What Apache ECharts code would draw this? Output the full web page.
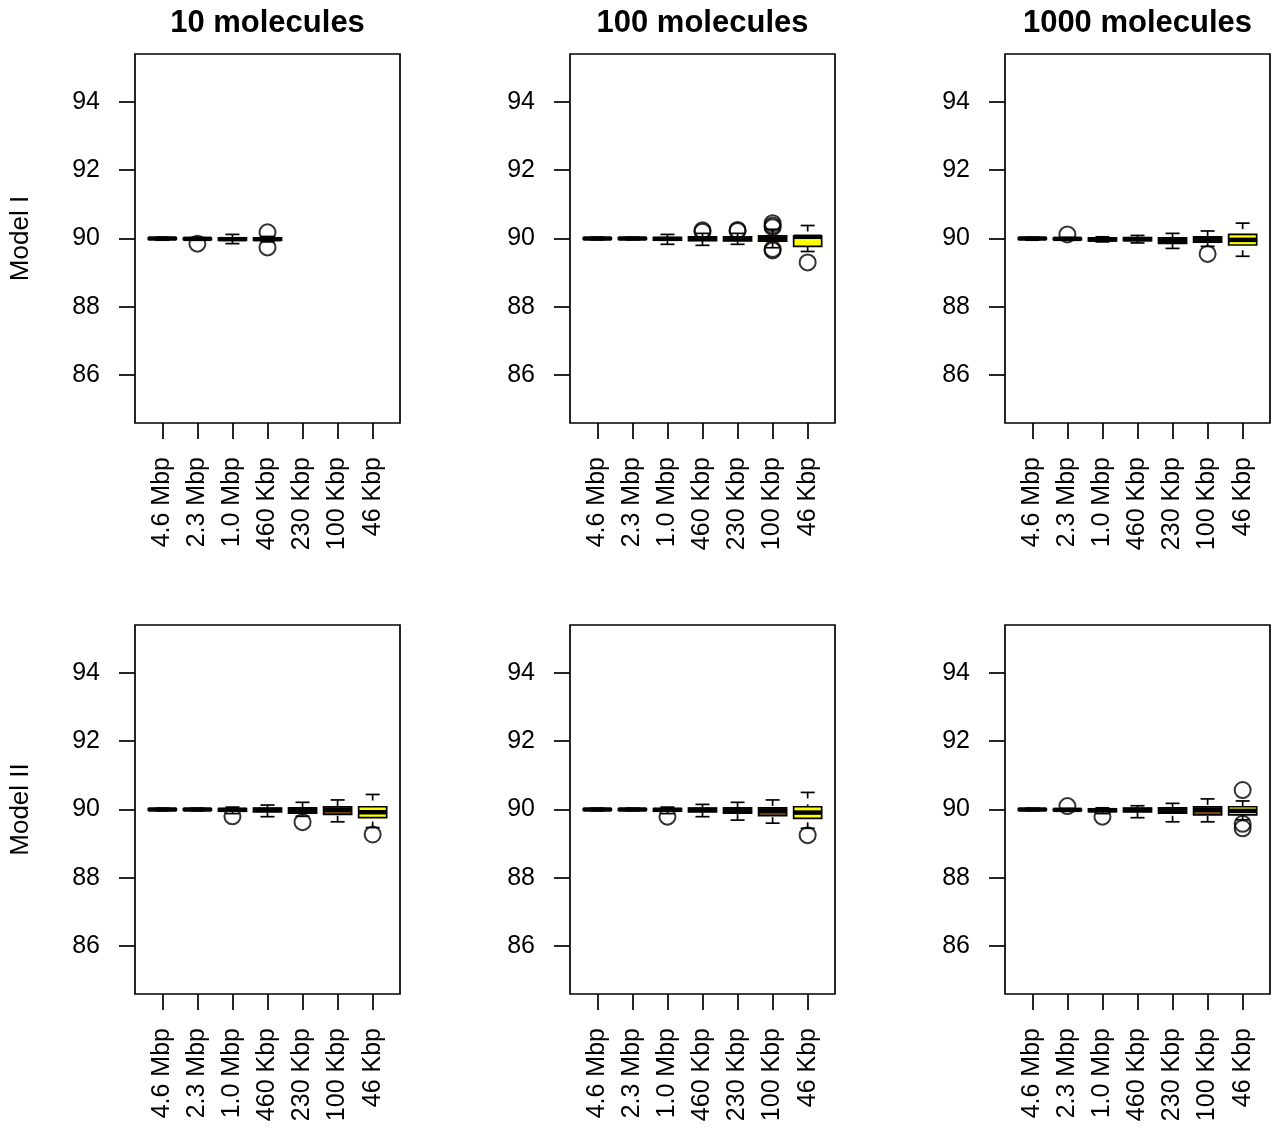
<!DOCTYPE html>
<html>
<head>
<meta charset="utf-8">
<script src="https://cdn.jsdelivr.net/npm/echarts@6/dist/echarts.min.js"></script>
<style>
html,body{margin:0;padding:0;background:#fff;}
#chart{width:1275px;height:1133px;}
</style>
</head>
<body>
<div id="chart"></div>
<script>
// ---------- data ----------
const categories = ['4.6 Mbp', '2.3 Mbp', '1.0 Mbp', '460 Kbp', '230 Kbp', '100 Kbp', '46 Kbp'];
const boxFill = ['#000000', '#140c00', '#2a1800', '#3f2600', '#553300', '#7a4c00', '#ffff00'];
const yTicks = [86, 88, 90, 92, 94];
const columnTitles = ['10 molecules', '100 molecules', '1000 molecules'];
const rowTitles = ['Model I', 'Model II'];

// box stats per category: [min whisker, Q1, median, Q3, max whisker]
const statsModelI_10 = [
  [89.95, 89.98, 90.00, 90.02, 90.04],
  [89.95, 89.97, 89.99, 90.01, 90.03],
  [89.85, 89.95, 89.98, 90.02, 90.12],
  [89.90, 89.95, 89.98, 90.02, 90.06]
];
const outliersModelI_10 = [[2, 89.85], [4, 90.18], [4, 89.74]];

const statsModelI_100 = [
  [89.96, 89.98, 90.00, 90.02, 90.04],
  [89.96, 89.98, 90.00, 90.02, 90.04],
  [89.83, 89.95, 89.99, 90.03, 90.12],
  [89.80, 89.94, 89.99, 90.05, 90.15],
  [89.83, 89.93, 89.99, 90.05, 90.15],
  [89.73, 89.92, 90.00, 90.08, 90.27],
  [89.62, 89.77, 90.05, 90.07, 90.38]
];
const outliersModelI_100 = [[4, 90.24], [4, 90.20], [5, 90.25], [5, 90.22], [6, 90.45], [6, 90.38], [6, 90.33], [6, 89.65], [6, 89.69], [7, 89.30]];

const statsModelI_1000 = [
  [89.95, 89.98, 90.00, 90.02, 90.04],
  [89.95, 89.97, 89.99, 90.01, 90.03],
  [89.90, 89.93, 89.97, 90.02, 90.05],
  [89.87, 89.94, 89.98, 90.03, 90.09],
  [89.71, 89.86, 89.93, 90.02, 90.15],
  [89.77, 89.89, 89.97, 90.05, 90.22],
  [89.48, 89.81, 89.96, 90.12, 90.45]
];
const outliersModelI_1000 = [[2, 90.12], [6, 89.55]];

const statsModelII_10 = [
  [89.96, 89.98, 90.00, 90.02, 90.04],
  [89.96, 89.98, 90.00, 90.02, 90.04],
  [89.88, 89.95, 89.99, 90.03, 90.07],
  [89.79, 89.93, 89.99, 90.04, 90.13],
  [89.80, 89.89, 89.97, 90.05, 90.21],
  [89.64, 89.86, 89.99, 90.08, 90.28],
  [89.47, 89.76, 89.92, 90.08, 90.44]
];
const outliersModelII_10 = [[3, 89.80], [5, 89.63], [7, 89.27]];

const statsModelII_100 = [
  [89.96, 89.98, 90.00, 90.02, 90.04],
  [89.96, 89.98, 90.00, 90.02, 90.04],
  [89.88, 89.95, 89.99, 90.03, 90.07],
  [89.79, 89.93, 89.99, 90.04, 90.15],
  [89.69, 89.89, 89.97, 90.05, 90.21],
  [89.60, 89.82, 89.96, 90.05, 90.28],
  [89.45, 89.74, 89.91, 90.08, 90.50]
];
const outliersModelII_100 = [[3, 89.79], [7, 89.25]];

const statsModelII_1000 = [
  [89.96, 89.98, 90.00, 90.02, 90.04],
  [89.95, 89.97, 89.99, 90.01, 90.03],
  [89.88, 89.94, 89.98, 90.02, 90.05],
  [89.76, 89.93, 89.99, 90.04, 90.11],
  [89.64, 89.89, 89.96, 90.05, 90.18],
  [89.64, 89.84, 89.99, 90.08, 90.31],
  [89.70, 89.84, 89.96, 90.08, 90.25]
];
const outliersModelII_1000 = [[2, 90.10], [3, 89.79], [7, 90.57], [7, 89.58], [7, 89.45]];

const panelStats = [statsModelI_10, statsModelI_100, statsModelI_1000, statsModelII_10, statsModelII_100, statsModelII_1000];
const panelOutliers = [outliersModelI_10, outliersModelI_100, outliersModelI_1000, outliersModelII_10, outliersModelII_100, outliersModelII_1000];

// ---------- layout ----------
const FONT = 'Liberation Sans, Arial, Helvetica, sans-serif';
const gridLefts = [135, 570, 1005];
const gridTops = [54, 625];
const gridW = 265, gridH = 369;

const grids = [], xAxes = [], yAxes = [], series = [];
for (let i = 0; i < 6; i++) {
  const col = i % 3, row = Math.floor(i / 3);
  grids.push({
    left: gridLefts[col], top: gridTops[row], width: gridW, height: gridH,
    show: true, borderColor: '#000', borderWidth: 1.7, backgroundColor: 'transparent',
    containLabel: false
  });
  xAxes.push({
    type: 'value', gridIndex: i, min: 0.22, max: 7.78,
    axisLine: {show: false},
    splitLine: {show: false},
    axisTick: {show: true, length: 16, inside: false, customValues: [1, 2, 3, 4, 5, 6, 7],
      lineStyle: {color: '#000', width: 1.7}},
    axisLabel: {show: true, rotate: 90, margin: 34, fontSize: 25, color: '#000', fontFamily: FONT,
      customValues: [1, 2, 3, 4, 5, 6, 7],
      formatter: v => categories[Math.round(v) - 1] || ''}
  });
  yAxes.push({
    type: 'value', gridIndex: i, min: 84.6, max: 95.4,
    axisLine: {show: false},
    splitLine: {show: false},
    axisTick: {show: true, length: 16, customValues: yTicks, lineStyle: {color: '#000', width: 1.7}},
    axisLabel: {show: true, margin: 35, fontSize: 25, color: '#000', fontFamily: FONT,
      customValues: yTicks, formatter: v => String(v)}
  });
  const boxData = panelStats[i].map((s, k) => [k + 1].concat(s));
  series.push({
    type: 'custom', xAxisIndex: i, yAxisIndex: i,
    encode: {x: 0, y: [1, 2, 3, 4, 5]},
    data: boxData,
    z: 2,
    renderItem: function (params, api) {
      const x = api.value(0);
      const lo = api.value(1), q1 = api.value(2), med = api.value(3), q3 = api.value(4), hi = api.value(5);
      const halfW = api.size([0.8, 0])[0] / 2;
      const capHalf = api.size([0.4, 0])[0] / 2;
      const cx = api.coord([x, lo])[0];
      const yLo = api.coord([x, lo])[1], yQ1 = api.coord([x, q1])[1], yMed = api.coord([x, med])[1];
      const yQ3 = api.coord([x, q3])[1], yHi = api.coord([x, hi])[1];
      const fill = boxFill[Math.round(x) - 1];
      const ls = {stroke: '#000', lineWidth: 1.7};
      return {
        type: 'group',
        children: [
          {type: 'line', shape: {x1: cx, y1: yLo, x2: cx, y2: yQ1}, style: Object.assign({lineDash: [6, 6]}, ls)},
          {type: 'line', shape: {x1: cx, y1: yHi, x2: cx, y2: yQ3}, style: Object.assign({lineDash: [6, 6]}, ls)},
          {type: 'line', shape: {x1: cx - capHalf, y1: yLo, x2: cx + capHalf, y2: yLo}, style: ls},
          {type: 'line', shape: {x1: cx - capHalf, y1: yHi, x2: cx + capHalf, y2: yHi}, style: ls},
          {type: 'rect', shape: {x: cx - halfW, y: yQ3, width: 2 * halfW, height: yQ1 - yQ3},
            style: {fill: fill, stroke: '#000', lineWidth: 1.7}},
          {type: 'line', shape: {x1: cx - halfW, y1: yMed, x2: cx + halfW, y2: yMed},
            style: {stroke: '#000', lineWidth: 4.5}}
        ]
      };
    }
  });
  series.push({
    type: 'scatter', xAxisIndex: i, yAxisIndex: i,
    data: panelOutliers[i],
    symbol: 'circle', symbolSize: 16,
    itemStyle: {color: 'rgba(0,0,0,0)', borderColor: '#000', borderWidth: 2},
    z: 3, silent: true
  });
}

const graphics = [];
columnTitles.forEach((t, c) => {
  graphics.push({
    type: 'text', x: gridLefts[c] + gridW / 2, y: 23,
    style: {text: t, fontSize: 31, fontWeight: 'bold', fontFamily: FONT, fill: '#000',
      align: 'center', verticalAlign: 'middle'}
  });
});
rowTitles.forEach((t, r) => {
  graphics.push({
    type: 'text', x: 21, y: gridTops[r] + gridH / 2, rotation: Math.PI / 2,
    style: {text: t, fontSize: 26, fontFamily: FONT, fill: '#000',
      align: 'center', verticalAlign: 'middle'}
  });
});

const chart = echarts.init(document.getElementById('chart'), null, {renderer: 'canvas'});
chart.setOption({
  animation: false,
  backgroundColor: '#fff',
  grid: grids,
  xAxis: xAxes,
  yAxis: yAxes,
  series: series,
  graphic: graphics
});
</script>
</body>
</html>
